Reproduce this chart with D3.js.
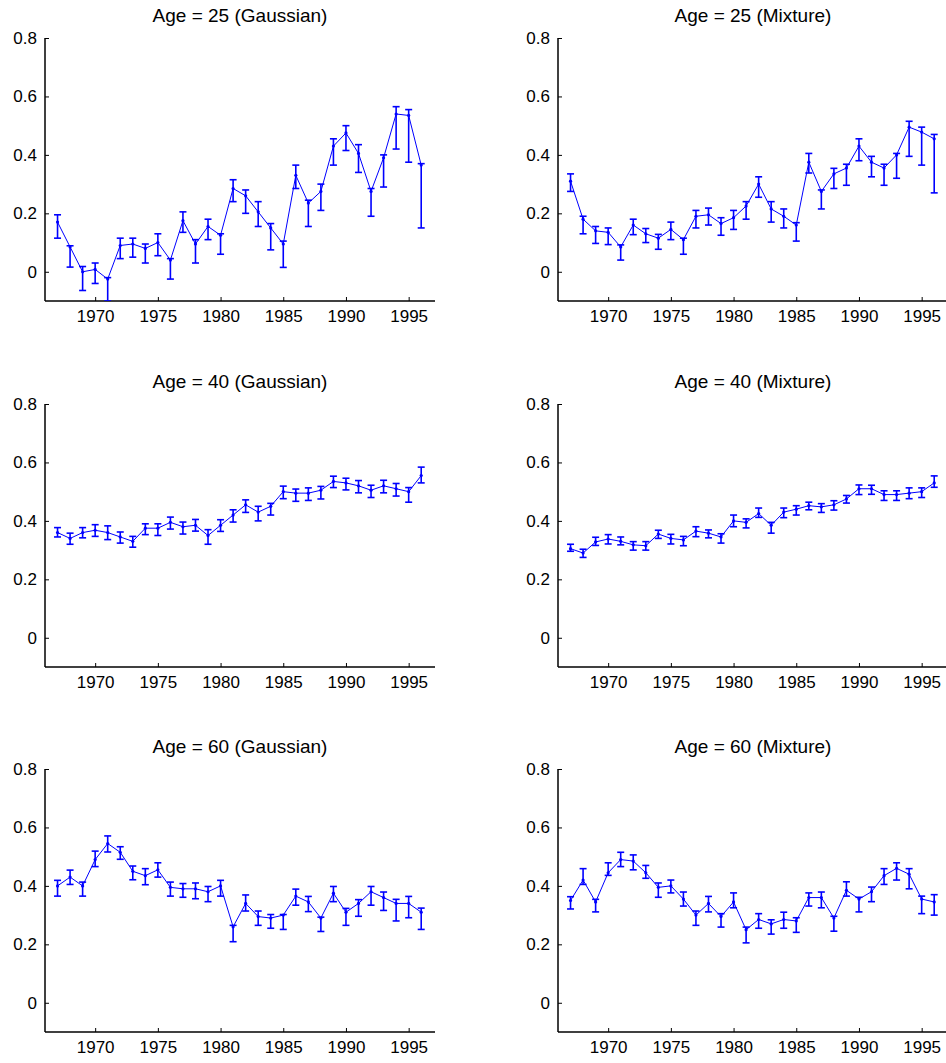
<!DOCTYPE html>
<html><head><meta charset="utf-8">
<script src="https://cdn.jsdelivr.net/npm/d3@7"></script>
<style>
html,body{margin:0;padding:0;background:#fff;}
svg{display:block;}
text{font-family:"Liberation Sans",Arial,sans-serif;fill:#000;}
</style></head>
<body>
<svg id="chart" width="946" height="1063"></svg>
<script>
const years = d3.range(1967, 1997);
const xTicks = [1970, 1975, 1980, 1985, 1990, 1995];
const yTicks = [0, 0.2, 0.4, 0.6, 0.8];
const yTickLabels = ["0", "0.2", "0.4", "0.6", "0.8"];

// Age = 25 (Gaussian)
const g25Mean = [0.17,0.085,0.0,0.008,-0.025,0.09,0.095,0.08,0.1,0.04,0.175,0.095,0.155,0.125,0.285,0.26,0.205,0.15,0.095,0.33,0.235,0.275,0.43,0.475,0.405,0.275,0.39,0.54,0.535,0.365];
const g25Low  = [0.115,0.016,-0.064,-0.04,-0.1,0.045,0.05,0.03,0.055,-0.025,0.135,0.03,0.11,0.06,0.24,0.2,0.155,0.075,0.015,0.285,0.155,0.21,0.365,0.415,0.34,0.19,0.29,0.42,0.375,0.15];
const g25High = [0.195,0.089,0.018,0.03,-0.02,0.115,0.115,0.095,0.13,0.045,0.205,0.11,0.18,0.13,0.315,0.28,0.24,0.165,0.105,0.365,0.245,0.3,0.455,0.5,0.435,0.285,0.4,0.565,0.555,0.37];

// Age = 25 (Mixture)
const m25Mean = [0.31,0.18,0.14,0.135,0.085,0.16,0.13,0.115,0.145,0.11,0.19,0.195,0.165,0.185,0.225,0.3,0.215,0.19,0.16,0.375,0.275,0.335,0.355,0.43,0.375,0.355,0.4,0.495,0.478,0.455];
const m25Low  = [0.275,0.13,0.097,0.093,0.04,0.127,0.1,0.077,0.11,0.06,0.15,0.16,0.125,0.145,0.18,0.255,0.17,0.15,0.105,0.338,0.215,0.285,0.296,0.38,0.325,0.296,0.32,0.395,0.365,0.27];
const m25High = [0.335,0.19,0.155,0.15,0.092,0.18,0.148,0.128,0.17,0.115,0.21,0.218,0.185,0.21,0.24,0.325,0.24,0.215,0.168,0.405,0.28,0.354,0.368,0.455,0.395,0.368,0.405,0.515,0.495,0.47];

// Age = 40 (Gaussian)
const g40Mean = [0.36,0.34,0.36,0.368,0.36,0.345,0.33,0.375,0.375,0.395,0.38,0.385,0.35,0.385,0.42,0.455,0.43,0.45,0.5,0.495,0.495,0.505,0.535,0.53,0.52,0.505,0.52,0.51,0.5,0.555];
const g40Low  = [0.345,0.32,0.342,0.347,0.336,0.324,0.31,0.353,0.35,0.372,0.355,0.365,0.32,0.364,0.396,0.429,0.4,0.42,0.476,0.467,0.47,0.475,0.514,0.506,0.496,0.48,0.496,0.485,0.464,0.53];
const g40High = [0.377,0.358,0.377,0.387,0.383,0.362,0.347,0.39,0.39,0.413,0.396,0.405,0.37,0.404,0.438,0.472,0.45,0.46,0.519,0.509,0.513,0.518,0.553,0.546,0.538,0.522,0.539,0.528,0.514,0.584];

// Age = 40 (Mixture)
const m40Mean = [0.305,0.29,0.328,0.338,0.33,0.318,0.315,0.355,0.34,0.335,0.365,0.358,0.345,0.4,0.395,0.425,0.385,0.43,0.44,0.452,0.448,0.455,0.475,0.51,0.51,0.49,0.49,0.495,0.5,0.53];
const m40Low  = [0.296,0.275,0.316,0.321,0.318,0.3,0.3,0.34,0.321,0.315,0.346,0.342,0.324,0.38,0.376,0.412,0.358,0.411,0.42,0.438,0.429,0.437,0.461,0.49,0.491,0.47,0.47,0.476,0.48,0.515];
const m40High = [0.32,0.303,0.344,0.353,0.345,0.329,0.329,0.368,0.354,0.347,0.38,0.369,0.356,0.42,0.407,0.444,0.395,0.444,0.452,0.464,0.459,0.469,0.487,0.523,0.522,0.503,0.503,0.513,0.513,0.554];

// Age = 60 (Gaussian)
const g60Mean = [0.4,0.43,0.4,0.49,0.545,0.515,0.45,0.435,0.455,0.395,0.39,0.39,0.38,0.4,0.26,0.34,0.295,0.29,0.3,0.365,0.345,0.29,0.375,0.31,0.34,0.38,0.36,0.34,0.34,0.31];
const g60Low  = [0.365,0.405,0.365,0.466,0.516,0.491,0.421,0.404,0.43,0.365,0.361,0.356,0.346,0.365,0.209,0.314,0.265,0.255,0.251,0.334,0.312,0.244,0.346,0.265,0.296,0.334,0.316,0.28,0.291,0.251];
const g60High = [0.419,0.454,0.413,0.519,0.571,0.534,0.468,0.459,0.479,0.413,0.408,0.41,0.398,0.419,0.265,0.369,0.314,0.302,0.302,0.389,0.364,0.293,0.398,0.323,0.353,0.398,0.379,0.354,0.364,0.324];

// Age = 60 (Mixture)
const m60Mean = [0.35,0.42,0.345,0.445,0.49,0.485,0.445,0.395,0.4,0.355,0.3,0.34,0.295,0.345,0.25,0.285,0.27,0.285,0.28,0.36,0.36,0.29,0.385,0.355,0.38,0.435,0.46,0.44,0.355,0.345];
const m60Low  = [0.321,0.405,0.311,0.436,0.466,0.455,0.426,0.361,0.376,0.331,0.265,0.311,0.259,0.325,0.205,0.255,0.235,0.255,0.241,0.331,0.325,0.245,0.365,0.311,0.346,0.405,0.42,0.39,0.305,0.3];
const m60High = [0.363,0.459,0.354,0.479,0.515,0.506,0.47,0.41,0.42,0.379,0.314,0.364,0.305,0.376,0.259,0.305,0.284,0.31,0.291,0.376,0.379,0.296,0.414,0.361,0.396,0.459,0.479,0.459,0.365,0.37];

const panels = [
  {title: "Age = 25 (Gaussian)", mean: g25Mean, low: g25Low, high: g25High, col: 0, row: 0},
  {title: "Age = 25 (Mixture)",  mean: m25Mean, low: m25Low, high: m25High, col: 1, row: 0},
  {title: "Age = 40 (Gaussian)", mean: g40Mean, low: g40Low, high: g40High, col: 0, row: 1},
  {title: "Age = 40 (Mixture)",  mean: m40Mean, low: m40Low, high: m40High, col: 1, row: 1},
  {title: "Age = 60 (Gaussian)", mean: g60Mean, low: g60Low, high: g60High, col: 0, row: 2},
  {title: "Age = 60 (Mixture)",  mean: m60Mean, low: m60Low, high: m60High, col: 1, row: 2}
];

const colLeft = [45, 558];
const rowTop = [38, 404, 769];
const pw = 390, ph = 263;
const blue = "#0000ff";

const svg = d3.select("#chart");

panels.forEach(p => {
  const x0 = colLeft[p.col], y0 = rowTop[p.row];
  const g = svg.append("g").attr("transform", `translate(${x0},${y0})`);
  const x = d3.scaleLinear().domain([1966, 1997.1]).range([0, pw]);
  const y = d3.scaleLinear().domain([-0.1, 0.8]).range([ph, 0]);

  const yAxis = d3.axisLeft(y).tickValues(yTicks).tickSize(-4).tickPadding(8)
    .tickFormat((d, i) => yTickLabels[i]);
  const xAxis = d3.axisBottom(x).tickValues(xTicks).tickSize(-4).tickPadding(9)
    .tickFormat(d3.format("d"));

  const ya = g.append("g").call(yAxis);
  const xa = g.append("g").attr("transform", `translate(0,${ph})`).call(xAxis);
  [ya, xa].forEach(a => {
    a.select(".domain").attr("stroke", "#000").attr("stroke-width", 1.5);
    a.selectAll(".tick line").attr("stroke", "#000").attr("stroke-width", 1);
    a.selectAll("text").attr("font-size", 17).attr("fill", "#111")
      .style("font-family", '"Liberation Sans", Arial, sans-serif');
  });
  ya.select(".domain").attr("d", `M0,0V${ph}`);
  xa.select(".domain").attr("d", `M0,0H${pw}`);

  g.append("text").attr("x", pw / 2).attr("y", -16)
    .attr("text-anchor", "middle").attr("font-size", 19).attr("fill", "#111")
    .text(p.title);

  const clipId = "clip" + p.col + p.row;
  g.append("clipPath").attr("id", clipId).append("rect")
    .attr("x", -10).attr("y", 0).attr("width", pw + 20).attr("height", ph);
  const plot = g.append("g").attr("clip-path", `url(#${clipId})`);

  const data = years.map((yr, i) => ({yr, m: p.mean[i], lo: p.low[i], hi: p.high[i]}));

  plot.append("path").datum(data)
    .attr("fill", "none").attr("stroke", blue).attr("stroke-width", 1)
    .attr("d", d3.line().x(d => x(d.yr)).y(d => y(d.m)));

  const eb = plot.selectAll("g.eb").data(data).join("g").attr("class", "eb")
    .attr("stroke", blue).attr("stroke-width", 1.6);
  eb.append("line").attr("x1", d => x(d.yr)).attr("x2", d => x(d.yr))
    .attr("y1", d => y(d.lo)).attr("y2", d => y(d.hi));
  eb.append("line").attr("x1", d => x(d.yr) - 3.5).attr("x2", d => x(d.yr) + 3.5)
    .attr("y1", d => y(d.lo)).attr("y2", d => y(d.lo));
  eb.append("line").attr("x1", d => x(d.yr) - 3.5).attr("x2", d => x(d.yr) + 3.5)
    .attr("y1", d => y(d.hi)).attr("y2", d => y(d.hi));

  plot.selectAll("circle").data(data).join("circle")
    .attr("cx", d => x(d.yr)).attr("cy", d => y(d.m)).attr("r", 1.6)
    .attr("fill", blue);
});
</script>
</body></html>
